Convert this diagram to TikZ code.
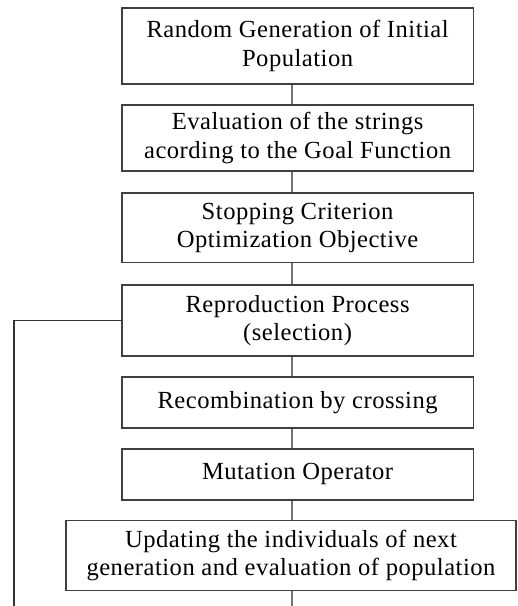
\documentclass[tikz,border=0pt]{standalone}
\usepackage{fontspec}
\setmainfont{Liberation Serif}
\usetikzlibrary{positioning}

\begin{document}
\begin{tikzpicture}[box/.style={draw=black!75,line width=1pt,fill=white,align=center,font=\fontsize{17.5}{20}\selectfont\addfontfeature{LetterSpace=2},minimum width=8.78cm,inner sep=2pt},widebox/.style={box,minimum width=11.25cm},link/.style={draw=black!55,line width=1pt}]
\useasboundingbox (0,0) rectangle (12.925,-15.15);
\coordinate (axis) at (7.3,0);
\node[box,minimum height=1.9cm] (random) at (7.44,-1.15) {Random Generation of Initial\\Population};
\node[box,minimum height=1.65cm] (evaluation) at (7.44,-3.45) {Evaluation of the strings\\acording to the Goal Function};
\node[box,minimum height=1.73cm] (stopping) at (7.44,-5.69) {Stopping Criterion\\Optimization Objective};
\node[box,minimum height=1.78cm] (reproduction) at (7.44,-8.01) {Reproduction Process\\(selection)};
\node[box,minimum height=1.28cm] (crossing) at (7.44,-10.06) {Recombination by crossing};
\node[box,minimum height=1.28cm] (mutation) at (7.44,-11.86) {Mutation Operator};
\node[widebox,minimum height=1.75cm] (updating) at (7.275,-13.88) {Updating the individuals of next\\generation and evaluation of population};
\coordinate (loopcorner) at (0.35,-8.01); \coordinate (loopend) at (0.35,-15.15); \coordinate (bottomend) at (7.3,-15.15);
\draw[link] (random.south -| axis)--(evaluation.north -| axis); \draw[link] (evaluation.south -| axis)--(stopping.north -| axis); \draw[link] (stopping.south -| axis)--(reproduction.north -| axis);
\draw[link] (reproduction.south -| axis)--(crossing.north -| axis); \draw[link] (crossing.south -| axis)--(mutation.north -| axis); \draw[link] (mutation.south -| axis)--(updating.north -| axis);
\draw[link,draw=black!80] (reproduction.west)--(loopcorner)--(loopend);
\draw[link] (updating.south -| axis)--(bottomend);
\end{tikzpicture}
\end{document}
